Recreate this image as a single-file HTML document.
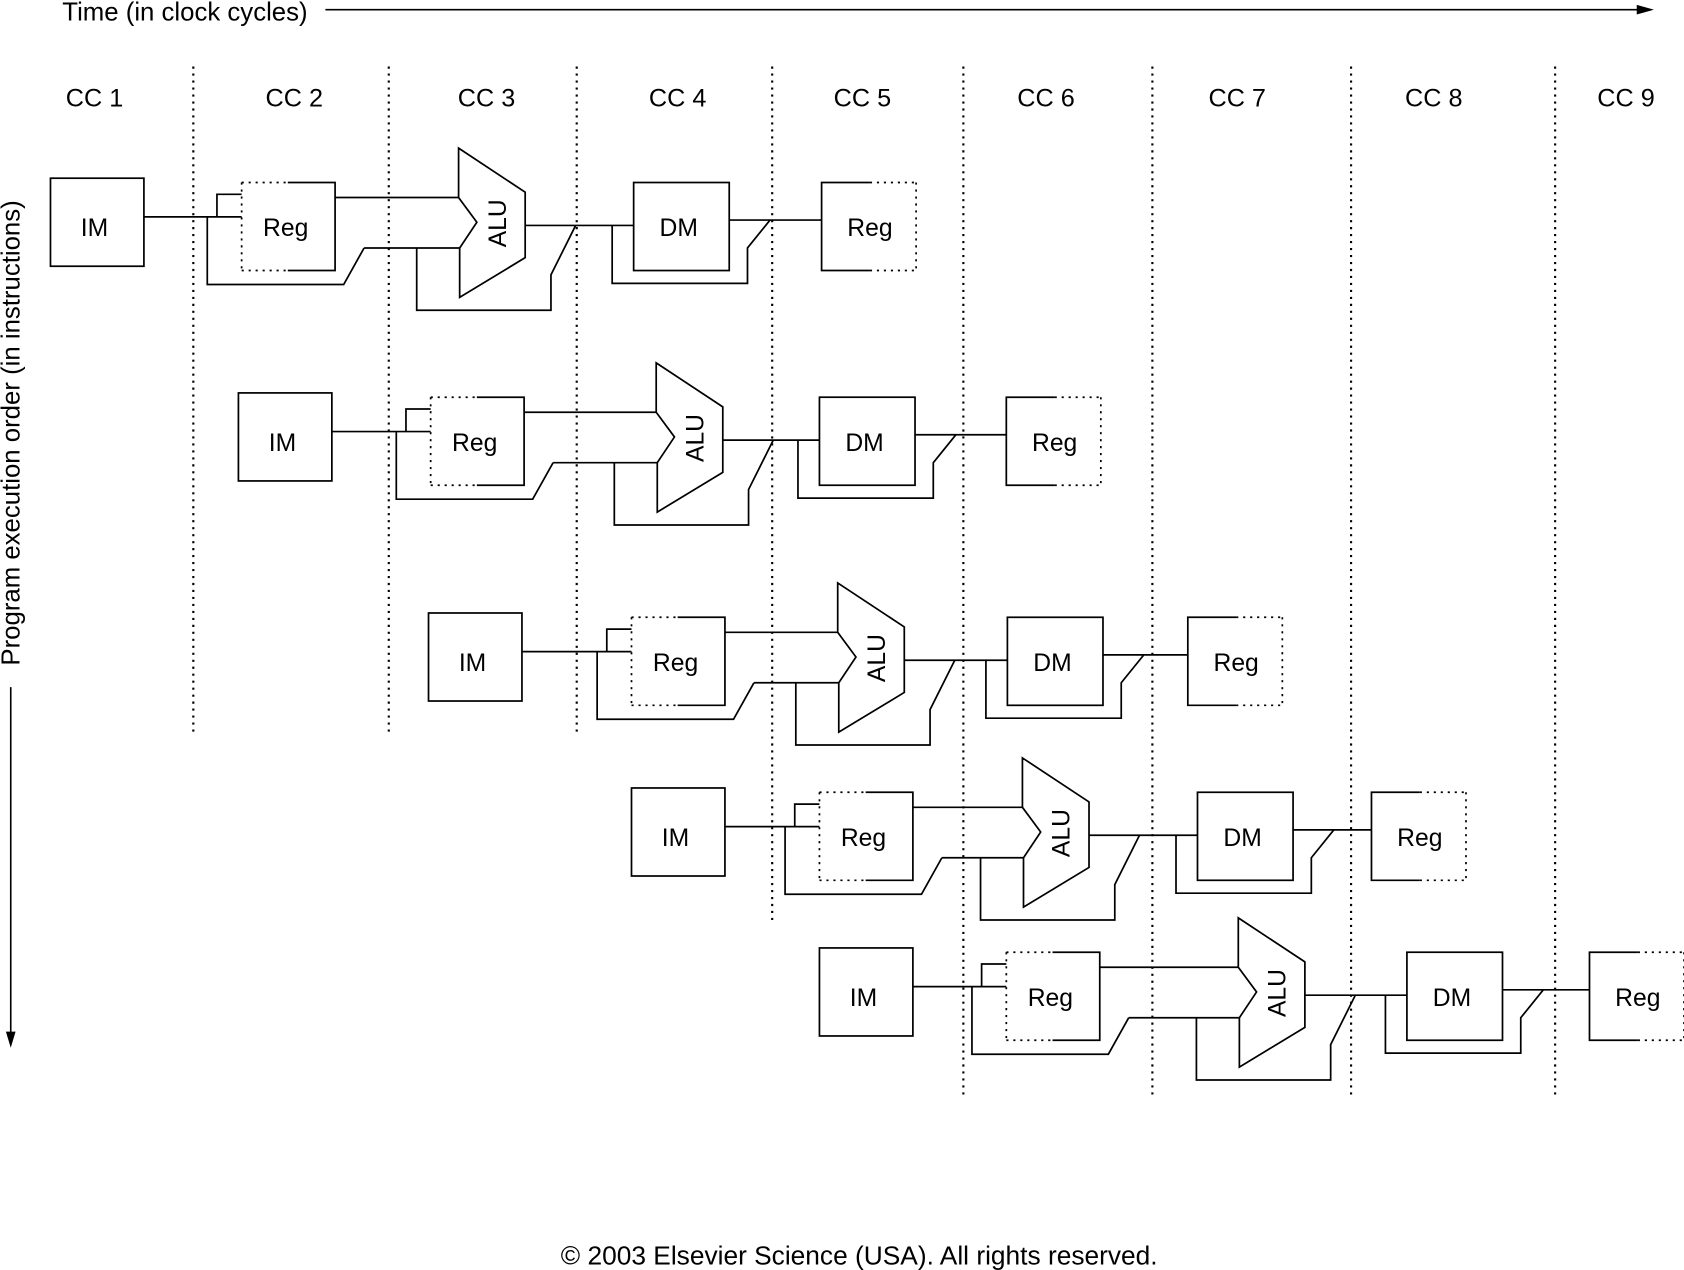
<!DOCTYPE html>
<html><head><meta charset="utf-8"><style>
html,body{margin:0;padding:0;background:#fff;}
svg{display:block;}
text{font-family:"Liberation Sans",Arial,sans-serif;fill:#000;}
</style></head><body>
<svg width="1684" height="1270" viewBox="0 0 1568 1183" preserveAspectRatio="none" xmlns="http://www.w3.org/2000/svg">
<defs>
<g id="im" fill="none" stroke="#000" stroke-width="1.6">
  <rect x="47" y="166" width="87" height="82"/>
  <text x="88" y="220" font-size="23" text-anchor="middle" stroke="none" fill="#000">IM</text>
</g>
<g id="reg" fill="none" stroke="#000" stroke-width="1.6">
  <polyline points="202,202 202,181 225,181"/>
  <polyline points="193,202 193,265 320,265 339,231"/>
  <line x1="225" y1="170" x2="225" y2="252" stroke-dasharray="2 4.5"/>
  <line x1="225" y1="170" x2="268" y2="170" stroke-dasharray="2 4.5"/>
  <line x1="225" y1="252" x2="268" y2="252" stroke-dasharray="2 4.5"/>
  <polyline points="268,170 312,170 312,252 268,252"/>
  <text x="266" y="220" font-size="23" text-anchor="middle" stroke="none" fill="#000">Reg</text>
</g>
<g id="alu" fill="none" stroke="#000" stroke-width="1.6">
  <polygon points="427,138 489,179 489,240 428,277 428,231 444,207 427,184"/>
  <text transform="translate(471,208) rotate(-90)" font-size="23" text-anchor="middle" stroke="none" fill="#000">ALU</text>
  <polyline points="388,231 388,289 513,289 513,256 536,210"/>
</g>
<g id="dm" fill="none" stroke="#000" stroke-width="1.6">
  <rect x="590" y="170" width="89" height="82"/>
  <text x="632" y="220" font-size="23" text-anchor="middle" stroke="none" fill="#000">DM</text>
  <polyline points="570,210 570,264 696,264 696,231 717,205"/>
</g>
<g id="wr" fill="none" stroke="#000" stroke-width="1.6">
  <polyline points="810,170 765,170 765,252 810,252"/>
  <line x1="810" y1="170" x2="853" y2="170" stroke-dasharray="2 4.5"/>
  <line x1="853" y1="170" x2="853" y2="252" stroke-dasharray="2 4.5"/>
  <line x1="810" y1="252" x2="853" y2="252" stroke-dasharray="2 4.5"/>
  <text x="810" y="220" font-size="23" text-anchor="middle" stroke="none" fill="#000">Reg</text>
</g>
</defs>

<!-- time axis -->
<text x="58" y="19" font-size="24">Time (in clock cycles)</text>
<line x1="303" y1="9" x2="1528" y2="9" stroke="#000" stroke-width="1.5"/>
<polygon points="1540,9 1524,4.5 1524,13.5" fill="#000"/>

<!-- CC labels -->
<g font-size="23.5" text-anchor="middle">
<text x="88" y="99">CC 1</text>
<text x="274" y="99">CC 2</text>
<text x="453" y="99">CC 3</text>
<text x="631" y="99">CC 4</text>
<text x="803" y="99">CC 5</text>
<text x="974" y="99">CC 6</text>
<text x="1152" y="99">CC 7</text>
<text x="1335" y="99">CC 8</text>
<text x="1514" y="99">CC 9</text>
</g>

<!-- dotted dividers -->
<g stroke="#000" stroke-width="2" stroke-dasharray="2 4.5">
<line x1="180" y1="62" x2="180" y2="686"/>
<line x1="362" y1="62" x2="362" y2="686"/>
<line x1="537" y1="62" x2="537" y2="686"/>
<line x1="719" y1="62" x2="719" y2="857"/>
<line x1="897" y1="62" x2="897" y2="1020"/>
<line x1="1073" y1="62" x2="1073" y2="1020"/>
<line x1="1258" y1="62" x2="1258" y2="1020"/>
<line x1="1448" y1="62" x2="1448" y2="1020"/>
</g>

<!-- vertical axis -->
<text transform="translate(18,620) rotate(-90)" font-size="24">Program execution order (in instructions)</text>
<line x1="10" y1="640" x2="10" y2="964" stroke="#000" stroke-width="1.5"/>
<polygon points="10,976 5.5,961 14.5,961" fill="#000"/>

<!-- row 1 -->
<use href="#im"/><use href="#reg"/><use href="#alu"/><use href="#dm"/><use href="#wr"/>
<!-- row 2 -->
<use href="#im" transform="translate(175,200)"/>
<use href="#reg" transform="translate(176,200)"/>
<use href="#alu" transform="translate(184,200)"/>
<use href="#dm" transform="translate(173,200)"/>
<use href="#wr" transform="translate(172,200)"/>
<!-- row 3 -->
<use href="#im" transform="translate(352,405)"/>
<use href="#reg" transform="translate(363,405)"/>
<use href="#alu" transform="translate(353,405)"/>
<use href="#dm" transform="translate(348,405)"/>
<use href="#wr" transform="translate(341,405)"/>
<!-- row 4 -->
<use href="#im" transform="translate(541,568)"/>
<use href="#reg" transform="translate(538,568)"/>
<use href="#alu" transform="translate(525,568)"/>
<use href="#dm" transform="translate(525,568)"/>
<use href="#wr" transform="translate(512,568)"/>
<!-- row 5 -->
<use href="#im" transform="translate(716,717)"/>
<use href="#reg" transform="translate(712,717)"/>
<use href="#alu" transform="translate(726,717)"/>
<use href="#dm" transform="translate(720,717)"/>
<use href="#wr" transform="translate(715,717)"/>

<!-- connecting wires -->
<g stroke="#000" stroke-width="1.6" fill="none">
<line x1="134" y1="202" x2="225" y2="202"/>
<line x1="339" y1="231" x2="428" y2="231"/>
<line x1="312" y1="184" x2="427" y2="184"/>
<line x1="489" y1="210" x2="590" y2="210"/>
<line x1="679" y1="205" x2="765" y2="205"/>

<line x1="309" y1="402" x2="401" y2="402"/>
<line x1="515" y1="431" x2="612" y2="431"/>
<line x1="488" y1="384" x2="611" y2="384"/>
<line x1="673" y1="410" x2="763" y2="410"/>
<line x1="852" y1="405" x2="937" y2="405"/>

<line x1="486" y1="607" x2="588" y2="607"/>
<line x1="702" y1="636" x2="781" y2="636"/>
<line x1="675" y1="589" x2="780" y2="589"/>
<line x1="842" y1="615" x2="938" y2="615"/>
<line x1="1027" y1="610" x2="1106" y2="610"/>

<line x1="675" y1="770" x2="763" y2="770"/>
<line x1="877" y1="799" x2="953" y2="799"/>
<line x1="850" y1="752" x2="952" y2="752"/>
<line x1="1014" y1="778" x2="1115" y2="778"/>
<line x1="1204" y1="773" x2="1277" y2="773"/>

<line x1="850" y1="919" x2="937" y2="919"/>
<line x1="1051" y1="948" x2="1154" y2="948"/>
<line x1="1024" y1="901" x2="1153" y2="901"/>
<line x1="1215" y1="927" x2="1310" y2="927"/>
<line x1="1399" y1="922" x2="1480" y2="922"/>
</g>

<text x="800" y="1178" font-size="24.5" text-anchor="middle">© 2003 Elsevier Science (USA). All rights reserved.</text>
</svg>
</body></html>
